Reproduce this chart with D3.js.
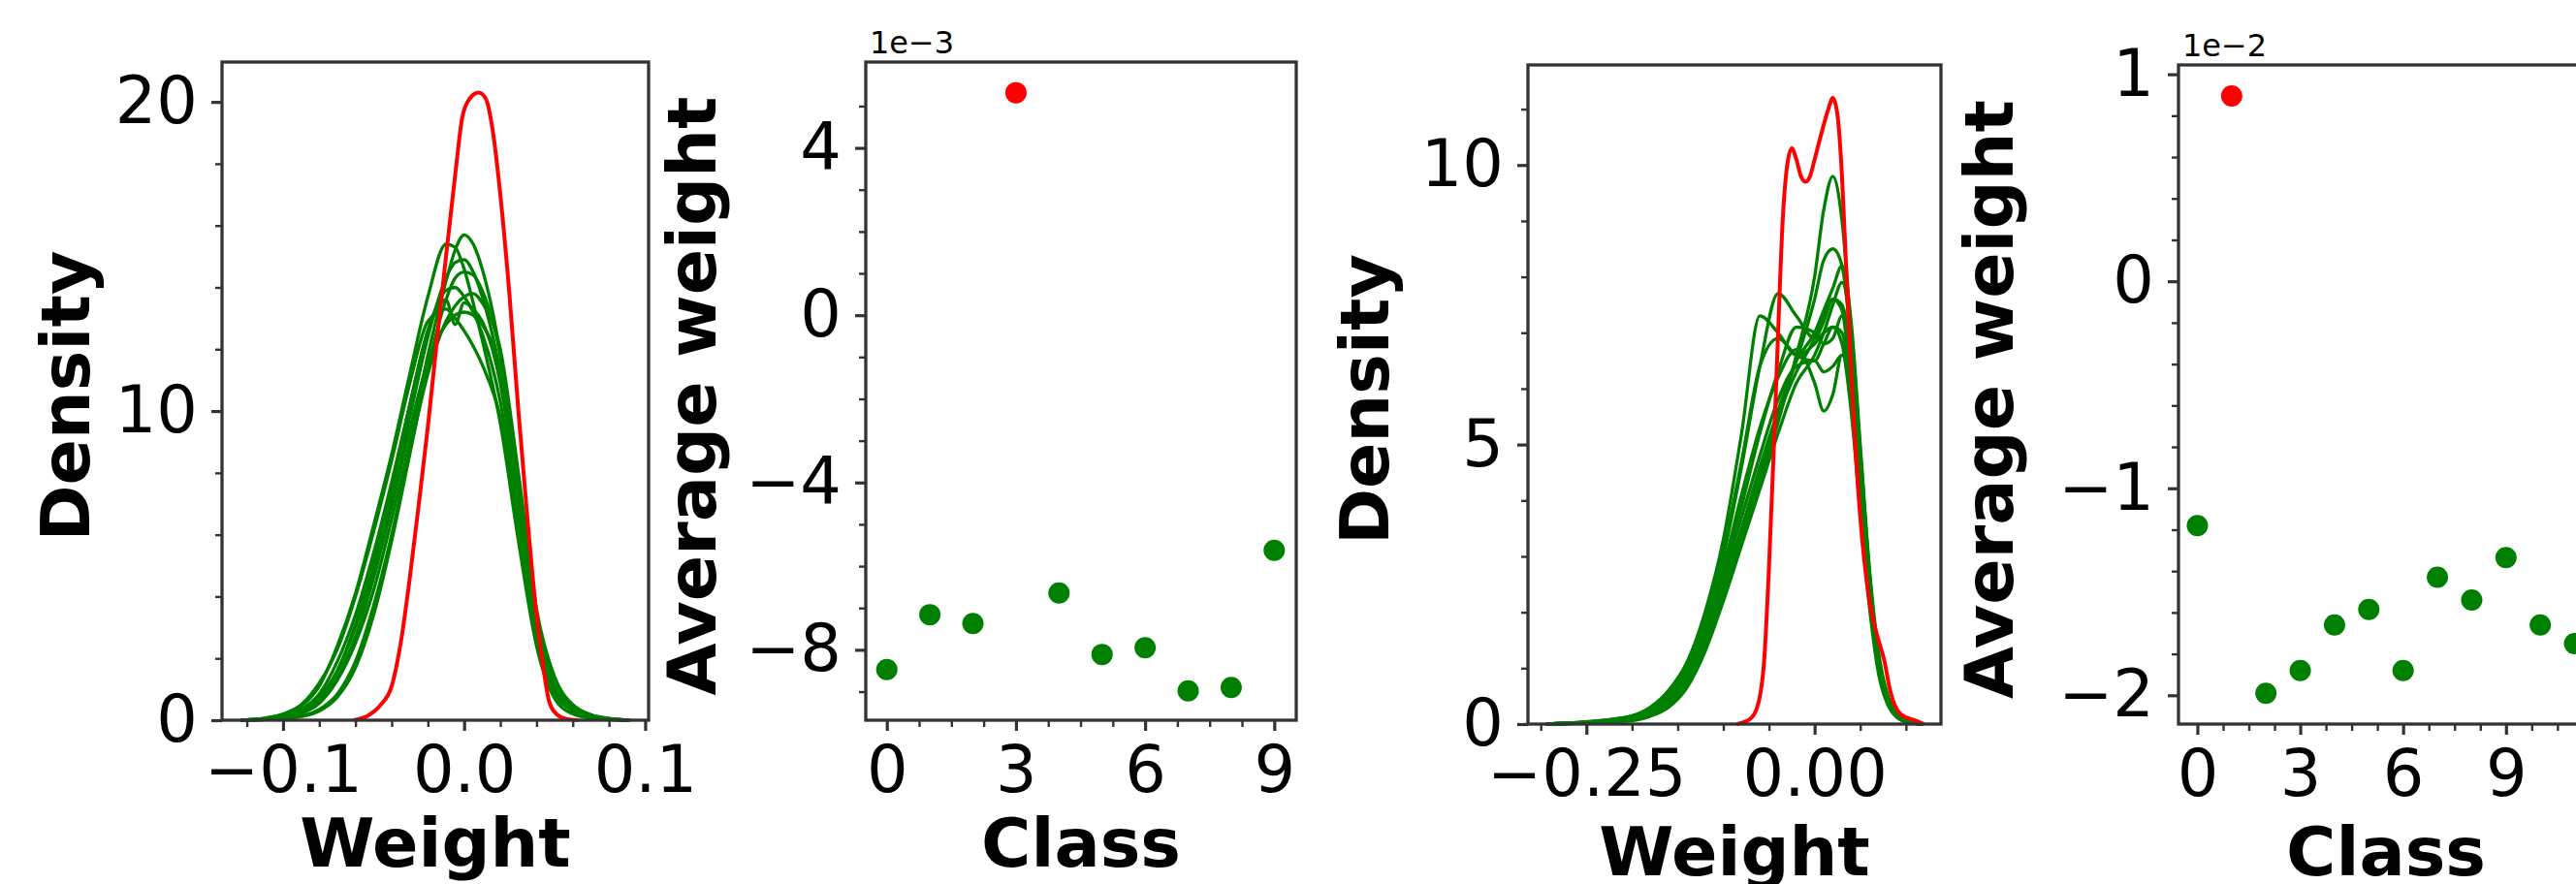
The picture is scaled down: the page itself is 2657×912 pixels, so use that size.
<!DOCTYPE html>
<html>
<head>
<meta charset="utf-8">
<script src="https://cdn.jsdelivr.net/npm/d3@7"></script>
<style>
  body { margin: 0; background: #fff; }
  text { font-family: "DejaVu Sans", sans-serif; fill: #000; }
</style>
</head>
<body>
<svg class="chart"></svg>
<script>

// ---- panel 1 : weight densities (first model) ----
var weightGridA = [-0.1235, -0.11, -0.10, -0.09, -0.08, -0.07, -0.06, -0.05, -0.04, -0.03, -0.02, -0.01, -0.005, 0.0, 0.005, 0.01, 0.02, 0.03, 0.04, 0.05, 0.06, 0.07, 0.08, 0.0917];
var greenDensityA = [
  [0, 0.06, 0.18, 0.45, 1.1, 2.4, 4.1, 6.3, 8.6, 11.2, 13.7, 15.4, 15.3, 14.6, 13.5, 12.3, 9.6, 5.8, 2.4, 0.7, 0.2, 0.06, 0.02, 0],
  [0, 0.03, 0.08, 0.22, 0.55, 1.3, 2.5, 4.2, 6.5, 9.0, 11.8, 14.2, 15.2, 15.7, 15.4, 14.6, 11.8, 7.0, 2.8, 0.9, 0.3, 0.1, 0.03, 0],
  [0, 0.04, 0.1, 0.3, 0.75, 1.6, 3.0, 4.9, 7.2, 9.8, 12.4, 14.3, 14.8, 14.9, 14.5, 13.7, 11.2, 6.8, 2.9, 1.0, 0.3, 0.1, 0.03, 0],
  [0, 0.02, 0.05, 0.12, 0.3, 0.75, 1.7, 3.4, 5.8, 8.6, 11.4, 13.6, 14.3, 14.5, 14.4, 13.9, 11.8, 7.6, 3.3, 1.2, 0.45, 0.15, 0.05, 0],
  [0, 0.05, 0.12, 0.35, 0.85, 1.9, 3.4, 5.4, 7.7, 10.2, 12.6, 13.9, 14.0, 13.7, 13.2, 12.5, 10.3, 6.4, 2.7, 0.9, 0.3, 0.1, 0.03, 0],
  [0, 0.02, 0.05, 0.14, 0.35, 0.85, 1.9, 3.7, 6.0, 8.7, 11.2, 12.9, 13.4, 13.7, 13.8, 13.5, 12.0, 8.0, 3.6, 1.4, 0.5, 0.18, 0.06, 0],
  [0, 0.04, 0.1, 0.28, 0.7, 1.6, 3.1, 5.1, 7.5, 10.2, 12.6, 13.6, 12.8, 13.5, 13.3, 12.9, 10.9, 6.9, 3.0, 1.1, 0.35, 0.12, 0.04, 0],
  [0, 0.07, 0.2, 0.5, 1.2, 2.3, 4.0, 6.1, 8.4, 10.9, 12.9, 13.3, 13.0, 12.6, 12.1, 11.5, 9.8, 6.4, 2.8, 1.0, 0.35, 0.12, 0.04, 0],
  [0, 0.03, 0.08, 0.25, 0.6, 1.4, 2.7, 4.6, 6.9, 9.4, 11.6, 12.8, 13.1, 13.2, 13.1, 12.8, 11.3, 7.5, 3.4, 1.3, 0.5, 0.17, 0.05, 0]
];
var redWeightA  = [-0.061, -0.053, -0.046, -0.040, -0.035, -0.030, -0.025, -0.020, -0.015, -0.010, -0.005, -0.001, 0.003, 0.008, 0.012, 0.016, 0.020, 0.025, 0.030, 0.035, 0.040, 0.044, 0.047, 0.051, 0.056, 0.063];
var redDensityA = [0, 0.15, 0.5, 1.1, 2.5, 4.6, 7.0, 9.5, 12.3, 15.0, 17.6, 19.5, 20.1, 20.3, 20.1, 19.0, 17.0, 13.8, 10.0, 6.5, 3.4, 1.6, 0.6, 0.2, 0.05, 0];

// ---- panel 2 : average weight per class (x 1e-3) ----
var classesA = [0, 1, 2, 3, 4, 5, 6, 7, 8, 9];
var avgWeightA = [-8.47, -7.16, -7.37, 5.32, -6.64, -8.11, -7.95, -8.98, -8.90, -5.62];
var targetA = 3;

// ---- panel 3 : weight densities (second model) ----
var weightGridB = [-0.2945, -0.25, -0.20, -0.18, -0.16, -0.14, -0.12, -0.10, -0.08, -0.06, -0.04, -0.02, 0.0, 0.01, 0.02, 0.03, 0.04, 0.05, 0.06, 0.07, 0.08, 0.09, 0.10, 0.1185];
var greenDensityB = [
  [0, 0.02, 0.08, 0.15, 0.35, 0.75, 1.4, 2.3, 3.3, 4.3, 5.4, 6.6, 8.0, 9.2, 9.8, 9.0, 7.0, 4.6, 2.5, 1.1, 0.45, 0.15, 0.05, 0],
  [0, 0.03, 0.1, 0.2, 0.45, 0.9, 1.6, 2.5, 3.5, 4.6, 5.6, 6.5, 7.6, 8.3, 8.5, 8.2, 6.8, 4.7, 2.6, 1.2, 0.5, 0.18, 0.06, 0],
  [0, 0.04, 0.15, 0.3, 0.6, 1.1, 2.0, 3.3, 5.2, 7.3, 7.0, 6.6, 6.8, 7.0, 7.1, 6.8, 5.6, 3.8, 2.1, 0.9, 0.35, 0.12, 0.04, 0],
  [0, 0.03, 0.12, 0.25, 0.5, 1.0, 1.8, 3.0, 4.6, 6.4, 7.7, 7.3, 6.9, 7.2, 7.6, 7.4, 6.0, 4.0, 2.2, 1.0, 0.4, 0.13, 0.04, 0],
  [0, 0.03, 0.1, 0.22, 0.45, 0.9, 1.7, 2.8, 4.1, 5.3, 6.2, 6.7, 6.1, 5.6, 5.9, 6.6, 6.2, 4.5, 2.5, 1.1, 0.45, 0.15, 0.05, 0],
  [0, 0.02, 0.08, 0.18, 0.4, 0.8, 1.5, 2.4, 3.4, 4.5, 5.6, 6.5, 7.0, 7.4, 7.8, 8.2, 7.2, 5.0, 2.8, 1.3, 0.5, 0.18, 0.06, 0],
  [0, 0.03, 0.1, 0.22, 0.45, 0.9, 1.7, 2.7, 3.9, 5.2, 6.3, 7.1, 7.0, 6.8, 6.9, 7.3, 6.5, 4.6, 2.5, 1.1, 0.45, 0.15, 0.05, 0],
  [0, 0.02, 0.06, 0.14, 0.3, 0.65, 1.3, 2.2, 3.2, 4.2, 5.2, 6.1, 6.6, 7.0, 7.5, 7.9, 7.0, 4.9, 2.7, 1.2, 0.48, 0.17, 0.05, 0],
  [0, 0.03, 0.1, 0.2, 0.42, 0.85, 1.6, 2.6, 3.7, 4.8, 5.8, 6.4, 6.5, 6.3, 6.4, 6.6, 6.1, 4.5, 2.6, 1.2, 0.5, 0.17, 0.05, 0],
  [0, 0.04, 0.14, 0.28, 0.55, 1.05, 1.9, 3.1, 4.7, 6.4, 6.9, 6.6, 6.5, 6.8, 7.1, 7.0, 5.9, 4.1, 2.3, 1.0, 0.4, 0.14, 0.04, 0],
  [0, 0.02, 0.07, 0.16, 0.36, 0.75, 1.4, 2.3, 3.3, 4.4, 5.5, 6.3, 6.9, 7.3, 7.6, 7.5, 6.6, 4.8, 2.7, 1.2, 0.48, 0.17, 0.05, 0]
];
var redWeightB  = [-0.085, -0.07, -0.062, -0.055, -0.05, -0.045, -0.04, -0.035, -0.030, -0.025, -0.020, -0.015, -0.010, -0.005, 0.0, 0.008, 0.015, 0.020, 0.025, 0.030, 0.035, 0.040, 0.050, 0.060, 0.070, 0.076, 0.083, 0.094, 0.111, 0.12];
var redDensityB = [0, 0.1, 0.35, 1.2, 2.8, 4.8, 7.0, 9.0, 10.0, 10.3, 10.1, 9.8, 9.7, 9.8, 10.1, 10.6, 11.0, 11.2, 10.9, 9.8, 8.0, 6.3, 3.7, 2.2, 1.5, 1.16, 0.58, 0.18, 0.06, 0];

// ---- panel 4 : average weight per class (x 1e-2) ----
var classesB = [0, 1, 2, 3, 4, 5, 6, 7, 8, 9, 10, 11];
var avgWeightB = [-1.18, 0.895, -1.99, -1.88, -1.66, -1.585, -1.88, -1.43, -1.54, -1.335, -1.66, -1.75];
var targetB = 1;

// ---- ticks ----
var weightTicksA = [-0.1, 0.0, 0.1], weightLabelsA = ["\u22120.1", "0.0", "0.1"];
var weightMinorA = [-0.12, -0.08, -0.06, -0.04, -0.02, 0.02, 0.04, 0.06, 0.08];
var densityTicksA = [0, 10, 20], densityMinorA = [2, 4, 6, 8, 12, 14, 16, 18];
var avgTicksA = [-8, -4, 0, 4], avgLabelsA = ["\u22128", "\u22124", "0", "4"];
var avgMinorA = [-9, -7, -6, -5, -3, -2, -1, 1, 2, 3, 5];
var classTicks = [0, 3, 6, 9, 12];
var classMinor = [0.75, 1.5, 2.25, 3.75, 4.5, 5.25, 6.75, 7.5, 8.25, 9.75, 10.5, 11.25];
var weightTicksB = [-0.25, 0.0], weightLabelsB = ["\u22120.25", "0.00"];
var weightMinorB = [-0.30, -0.20, -0.15, -0.10, -0.05, 0.05, 0.10];
var densityTicksB = [0, 5, 10], densityMinorB = [1, 2, 3, 4, 6, 7, 8, 9, 11];
var avgTicksB = [-2, -1, 0, 1], avgLabelsB = ["\u22122", "\u22121", "0", "1"];
var avgMinorB = [-1.8, -1.6, -1.4, -1.2, -0.8, -0.6, -0.4, -0.2, 0.2, 0.4, 0.6, 0.8];

var W = 2657, H = 912;
var spine = "#333";

var chart = d3.select(".chart")
    .attr("width", W)
    .attr("height", H);

function makePanel(box, xDomain, yDomain) {
  return {
    box: box,
    x: d3.scaleLinear().domain(xDomain).range([box.left, box.right]),
    y: d3.scaleLinear().domain(yDomain).range([box.bottom, box.top])
  };
}

function drawAxes(p, o) {
  var b = p.box;
  var xt = o.xTicks.filter(function(v) { return v >= p.x.domain()[0] && v <= p.x.domain()[1]; });
  var xm = o.xMinor.filter(function(v) { return v >= p.x.domain()[0] && v <= p.x.domain()[1]; });

  chart.append("g")
      .attr("class", "minor")
      .attr("transform", "translate(0," + b.bottom + ")")
      .call(d3.axisBottom(p.x).tickValues(xm).tickSize(7).tickFormat(""));
  chart.append("g")
      .attr("class", "minor")
      .attr("transform", "translate(" + b.left + ",0)")
      .call(d3.axisLeft(p.y).tickValues(o.yMinor).tickSize(7).tickFormat(""));

  chart.append("g")
      .attr("class", "major")
      .attr("transform", "translate(0," + b.bottom + ")")
      .call(d3.axisBottom(p.x).tickValues(xt).tickSize(11).tickPadding(15)
        .tickFormat(function(d) { return o.xLabels ? o.xLabels[o.xTicks.indexOf(d)] : d; }));
  chart.append("g")
      .attr("class", "major")
      .attr("transform", "translate(" + b.left + ",0)")
      .call(d3.axisLeft(p.y).tickValues(o.yTicks).tickSize(11).tickPadding(14)
        .tickFormat(function(d, i) { return o.yLabels[i]; }));

  chart.selectAll(".minor line").attr("stroke", spine).attr("stroke-width", 2.4);
  chart.selectAll(".major line").attr("stroke", spine).attr("stroke-width", 3.2);
  chart.selectAll(".minor path, .major path").remove();
  chart.selectAll(".major text")
      .attr("font-family", "DejaVu Sans")
      .style("font-size", "67px")
      .attr("fill", "#000");

  // frame
  chart.append("rect")
      .attr("x", b.left)
      .attr("y", b.top)
      .attr("width", b.right - b.left)
      .attr("height", b.bottom - b.top)
      .attr("fill", "none")
      .attr("stroke", spine)
      .attr("stroke-width", 3.3);

  chart.append("text")
      .attr("x", (b.left + b.right) / 2)
      .attr("y", o.xLabelY)
      .attr("text-anchor", "middle")
      .style("font-size", "70px")
      .style("font-weight", "bold")
      .text(o.xTitle);

  chart.append("text")
      .attr("transform", "translate(" + o.yLabelX + "," + ((b.top + b.bottom) / 2 + 5) + ") rotate(-90)")
      .attr("text-anchor", "middle")
      .style("font-size", "70px")
      .style("font-weight", "bold")
      .text(o.yTitle);

  if (o.offset) {
    chart.append("text")
        .attr("x", b.left + 4)
        .attr("y", b.top - 9)
        .style("font-size", "32px")
        .text(o.offset);
  }
}

function drawDensity(p, grid, greens, redX, redY) {
  var line = d3.line()
      .x(function(d) { return p.x(d[0]); })
      .y(function(d) { return p.y(d[1]); })
      .curve(d3.curveMonotoneX);

  chart.append("g").selectAll("path")
      .data(greens)
    .enter().append("path")
      .attr("d", function(vals) { return line(vals.map(function(v, i) { return [grid[i], v]; })); })
      .attr("fill", "none")
      .attr("stroke", "green")
      .attr("stroke-width", 3.3);

  chart.append("path")
      .attr("d", line(redX.map(function(v, i) { return [v, redY[i]]; })))
      .attr("fill", "none")
      .attr("stroke", "red")
      .attr("stroke-width", 4);
}

function drawDots(p, classes, values, target) {
  chart.append("g").selectAll("circle")
      .data(classes)
    .enter().append("circle")
      .attr("cx", function(d) { return p.x(d); })
      .attr("cy", function(d, i) { return p.y(values[i]); })
      .attr("r", 11)
      .attr("fill", function(d) { return d === target ? "red" : "green"; });
}

// panel geometry
var p1 = makePanel({left: 229, right: 669, top: 64, bottom: 743}, [-0.1337, 0.1019], [0, 21.29]);
var p2 = makePanel({left: 893, right: 1337, top: 64, bottom: 743}, [-0.489, 9.511], [-9.683, 6.053]);
var p3 = makePanel({left: 1576, right: 2002, top: 67, bottom: 747}, [-0.314, 0.1384], [0, 11.79]);
var p4 = makePanel({left: 2247, right: 2675, top: 67, bottom: 747}, [-0.55, 11.55], [-2.139, 1.045]);

drawDensity(p1, weightGridA, greenDensityA, redWeightA, redDensityA);
drawAxes(p1, {xTicks: weightTicksA, xLabels: weightLabelsA, xMinor: weightMinorA,
  yTicks: densityTicksA, yLabels: ["0", "10", "20"], yMinor: densityMinorA,
  xTitle: "Weight", yTitle: "Density", xLabelY: 894, yLabelX: 92});

drawDots(p2, classesA, avgWeightA, targetA);
drawAxes(p2, {xTicks: classTicks, xMinor: classMinor,
  yTicks: avgTicksA, yLabels: avgLabelsA, yMinor: avgMinorA,
  xTitle: "Class", yTitle: "Average weight", xLabelY: 894, yLabelX: 738, offset: "1e\u22123"});

drawDensity(p3, weightGridB, greenDensityB, redWeightB, redDensityB);
drawAxes(p3, {xTicks: weightTicksB, xLabels: weightLabelsB, xMinor: weightMinorB,
  yTicks: densityTicksB, yLabels: ["0", "5", "10"], yMinor: densityMinorB,
  xTitle: "Weight", yTitle: "Density", xLabelY: 903, yLabelX: 1432});

drawDots(p4, classesB, avgWeightB, targetB);
drawAxes(p4, {xTicks: classTicks, xMinor: classMinor,
  yTicks: avgTicksB, yLabels: avgLabelsB, yMinor: avgMinorB,
  xTitle: "Class", yTitle: "Average weight", xLabelY: 903, yLabelX: 2076, offset: "1e\u22122"});

</script>
</body>
</html>
